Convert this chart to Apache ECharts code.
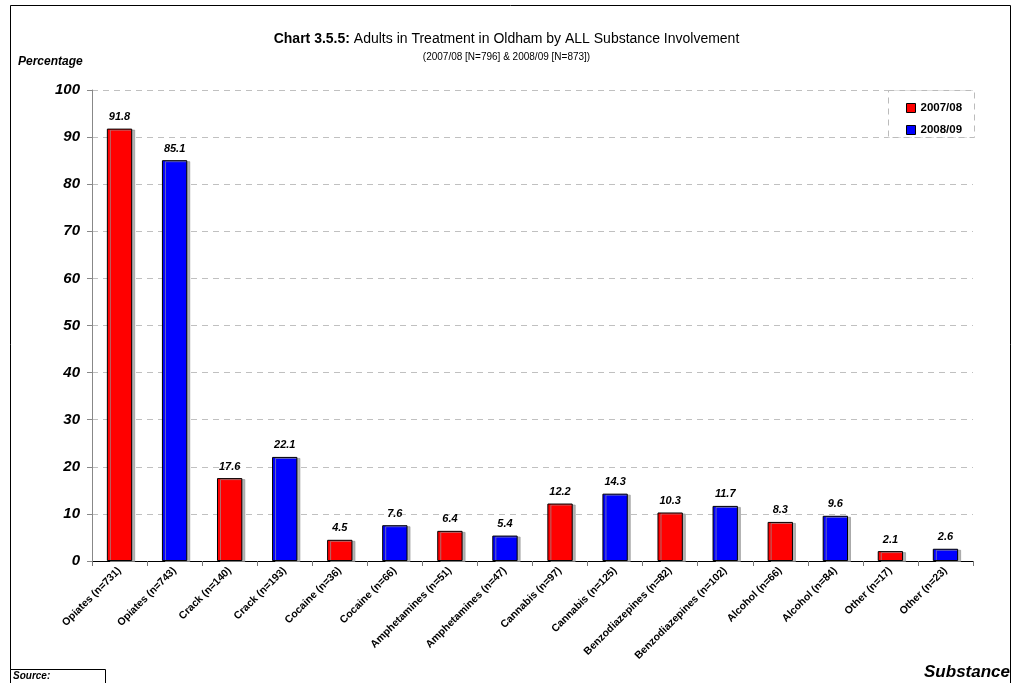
<!DOCTYPE html>
<html>
<head>
<meta charset="utf-8">
<script src="https://cdn.jsdelivr.net/npm/echarts@6/dist/echarts.min.js"></script>
<style>
  html, body { margin: 0; padding: 0; background: #fff; }
  #chart { width: 1013px; height: 683px; }
</style>
</head>
<body>
<div id="chart"></div>
<script>
// Substances, client counts and percentages for each year
const substances = ['Opiates', 'Crack', 'Cocaine', 'Amphetamines', 'Cannabis', 'Benzodiazepines', 'Alcohol', 'Other'];
const n2007 = [731, 140, 36, 51, 97, 82, 66, 17];
const pct2007 = [91.8, 17.6, 4.5, 6.4, 12.2, 10.3, 8.3, 2.1];
const n2008 = [743, 193, 66, 47, 125, 102, 84, 23];
const pct2008 = [85.1, 22.1, 7.6, 5.4, 14.3, 11.7, 9.6, 2.6];
const yTicks = [0, 10, 20, 30, 40, 50, 60, 70, 80, 90, 100];

// Each substance gets two categories: one per year, side by side
const categories = [];
const red = [];
const blue = [];
substances.forEach((s, i) => {
  categories.push(s + ' (n=' + n2007[i] + ')');
  red.push(pct2007[i]); blue.push(null);
  categories.push(s + ' (n=' + n2008[i] + ')');
  red.push(null); blue.push(pct2008[i]);
});

const font = 'Arial, "Liberation Sans", sans-serif';
const barStyle = (color) => ({
  color: color,
  borderColor: '#000',
  borderWidth: 1,
  shadowColor: 'rgba(150,150,150,0.7)',
  shadowOffsetX: 3,
  shadowOffsetY: 1,
  shadowBlur: 0
});
const labelStyle = {
  show: true,
  position: 'top',
  distance: 6,
  fontFamily: font,
  fontSize: 11,
  fontWeight: 'bold',
  fontStyle: 'italic',
  color: '#000',
  formatter: p => p.value == null ? '' : p.value.toFixed(1)
};

const chart = echarts.init(document.getElementById('chart'), null, { renderer: 'canvas' });
chart.setOption({
  animation: false,
  backgroundColor: '#fff',
  title: {
    text: '{b|Chart 3.5.5:} Adults in Treatment in Oldham by ALL Substance Involvement',
    subtext: '(2007/08 [N=796] & 2008/09 [N=873])',
    left: 'center',
    top: 27,
    itemGap: 6,
    textStyle: {
      fontFamily: font, fontSize: 14, fontWeight: 'normal', color: '#000',
      rich: { b: { fontFamily: font, fontSize: 14, fontWeight: 'bold', color: '#000' } }
    },
    subtextStyle: { fontFamily: font, fontSize: 10, color: '#000' }
  },
  legend: {
    orient: 'vertical',
    left: 901,
    top: 97,
    itemWidth: 9,
    itemHeight: 9,
    itemGap: 10,
    icon: 'rect',
    textStyle: { fontFamily: font, fontSize: 11.5, fontWeight: 'bold', color: '#000' },
    data: [
      { name: '2007/08', itemStyle: { borderColor: '#000', borderWidth: 1, shadowBlur: 0, shadowOffsetX: 0, shadowOffsetY: 0 } },
      { name: '2008/09', itemStyle: { borderColor: '#000', borderWidth: 1, shadowBlur: 0, shadowOffsetX: 0, shadowOffsetY: 0 } }
    ]
  },
  grid: { left: 92, right: 38, top: 90, bottom: 122, containLabel: false },
  xAxis: {
    type: 'category',
    data: categories,
    boundaryGap: true,
    axisLine: { lineStyle: { color: '#000', width: 1 } },
    axisTick: { show: true, alignWithLabel: false, length: 5, lineStyle: { color: '#777' } },
    axisLabel: {
      interval: 0,
      rotate: 45,
      margin: 8,
      fontFamily: font,
      fontSize: 10.5,
      fontWeight: 'bold',
      color: '#000'
    },
    name: 'Substance',
    nameLocation: 'end',
    nameGap: 0,
    nameTextStyle: {
      fontFamily: font, fontSize: 17, fontWeight: 'bold', fontStyle: 'italic', color: '#000',
      align: 'right', verticalAlign: 'top', padding: [103, -37, 0, 0]
    }
  },
  yAxis: {
    type: 'value',
    min: 0,
    max: 100,
    interval: 10,
    axisLine: { show: true, lineStyle: { color: '#888', width: 1 } },
    axisTick: { show: true, length: 5, lineStyle: { color: '#888' } },
    axisLabel: {
      margin: 12,
      fontFamily: font,
      fontSize: 15,
      fontWeight: 'bold',
      fontStyle: 'italic',
      color: '#000',
      formatter: v => yTicks.includes(v) ? String(v) : ''
    },
    splitLine: { show: true, lineStyle: { color: '#c0c0c0', type: [6, 5], width: 1 } },
    name: 'Percentage',
    nameLocation: 'end',
    nameGap: 0,
    nameTextStyle: {
      fontFamily: font, fontSize: 12, fontWeight: 'bold', fontStyle: 'italic', color: '#000',
      align: 'left', padding: [0, 0, 22, -74]
    }
  },
  series: [
    {
      name: '2007/08', type: 'bar', stack: 'yr', data: red,
      barWidth: '46%', itemStyle: barStyle('#ff0000'), label: labelStyle, z: 3
    },
    {
      name: '2008/09', type: 'bar', stack: 'yr', data: blue,
      barWidth: '46%', itemStyle: barStyle('#0000ff'), label: labelStyle, z: 3
    }
  ],
  graphic: [
    // outer frame
    { type: 'rect', shape: { x: 10.5, y: 5.5, width: 1000, height: 700 }, style: { fill: null, stroke: '#000', lineWidth: 1 }, silent: true, z: 0 },
    // legend frame
    { type: 'rect', shape: { x: 888.5, y: 90.5, width: 86, height: 47 }, style: { fill: '#fff', stroke: '#bbb', lineWidth: 1, lineDash: [6, 5] }, silent: true, z: 1 },
    // source box
    { type: 'rect', shape: { x: 10.5, y: 669.5, width: 95, height: 20 }, style: { fill: '#fff', stroke: '#000', lineWidth: 1 }, silent: true, z: 5 },
    { type: 'text', left: 13, top: 671, style: { text: 'Source:', fontFamily: font, fontSize: 10, fontWeight: 'bold', fontStyle: 'italic', fill: '#000' }, silent: true, z: 6 }
  ]
});
</script>
</body>
</html>
